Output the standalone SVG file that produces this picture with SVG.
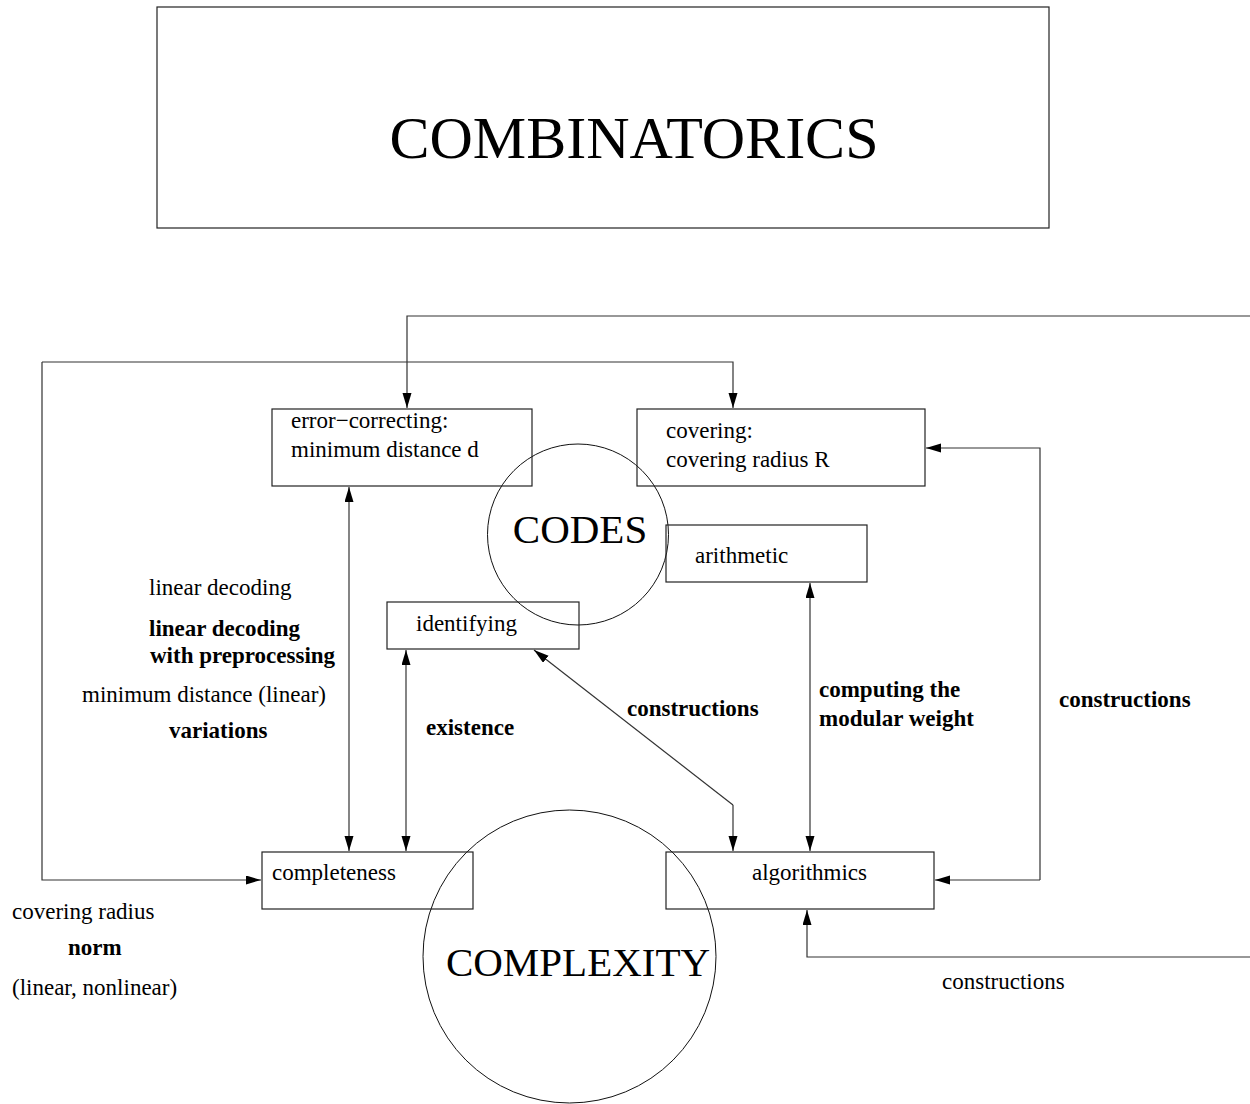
<svg xmlns="http://www.w3.org/2000/svg" width="1250" height="1104" viewBox="0 0 1250 1104">
<style>
.box{fill:none;stroke:#222;stroke-width:1.2}
.circ{fill:none;stroke:#111;stroke-width:1}
.ln{fill:none;stroke:#333;stroke-width:1.2}
text{font-family:"Liberation Serif","Times New Roman",serif;font-size:23px;fill:#000}
.b{font-weight:bold}
.big{font-size:41px}
.huge{font-size:60px}
</style>
<defs>
<marker id="ah" markerUnits="userSpaceOnUse" markerWidth="16" markerHeight="10" refX="15" refY="4.5" orient="auto">
<path d="M0,0 L15,4.5 L0,9 z" fill="#000"/>
</marker>
<marker id="ahs" markerUnits="userSpaceOnUse" markerWidth="16" markerHeight="10" refX="15" refY="4.5" orient="auto-start-reverse">
<path d="M0,0 L15,4.5 L0,9 z" fill="#000"/>
</marker>
</defs>
<rect width="1250" height="1104" fill="#fff"/>
<g id="combinatorics">
<rect class="box" x="157" y="7" width="892" height="221"/>
<text class="huge" x="634" y="158" text-anchor="middle">COMBINATORICS</text>
</g>
<g id="codes">
<circle class="circ" cx="578" cy="534.5" r="90.5"/>
<text class="big" x="580" y="543" text-anchor="middle">CODES</text>
</g>
<g id="complexity">
<circle class="circ" cx="569.5" cy="956.5" r="146.5"/>
<text class="big" x="578" y="976" text-anchor="middle">COMPLEXITY</text>
</g>
<g id="error-correcting">
<rect class="box" x="272" y="409" width="260" height="77"/>
<text x="291" y="428">error−correcting:</text>
<text x="291" y="457">minimum distance d</text>
</g>
<g id="covering">
<rect class="box" x="637" y="409" width="288" height="77"/>
<text x="666" y="438">covering:</text>
<text x="666" y="467">covering radius R</text>
</g>
<g id="arithmetic">
<rect class="box" x="666" y="525" width="201" height="57"/>
<text x="695" y="563">arithmetic</text>
</g>
<g id="identifying">
<rect class="box" x="387" y="602" width="192" height="47"/>
<text x="416" y="631">identifying</text>
</g>
<g id="completeness">
<rect class="box" x="262" y="852" width="211" height="57"/>
<text x="272" y="880">completeness</text>
</g>
<g id="algorithmics">
<rect class="box" x="666" y="852" width="268" height="57"/>
<text x="752" y="880">algorithmics</text>
</g>
<g id="connectors">
<polyline class="ln" points="1250,316 407,316 407,408" marker-end="url(#ah)"/>
<polyline class="ln" points="42,362 733,362 733,408" marker-end="url(#ah)"/>
<polyline class="ln" points="42,362 42,880 261,880" marker-end="url(#ah)"/>
<polyline class="ln" points="1040,880 1040,448 926,448" marker-end="url(#ah)"/>
<line class="ln" x1="1040" y1="880" x2="935" y2="880" marker-end="url(#ah)"/>
<line class="ln" x1="349" y1="487" x2="349" y2="851" marker-start="url(#ahs)" marker-end="url(#ah)"/>
<line class="ln" x1="406" y1="650" x2="406" y2="851" marker-start="url(#ahs)" marker-end="url(#ah)"/>
<line class="ln" x1="810" y1="583" x2="810" y2="851" marker-start="url(#ahs)" marker-end="url(#ah)"/>
<polyline class="ln" points="733,805 733,851" marker-end="url(#ah)"/>
<polyline class="ln" points="733,805 534,650" marker-end="url(#ah)"/>
<polyline class="ln" points="1250,957 807,957 807,910" marker-end="url(#ah)"/>
</g>
<g id="labels">
<text x="149" y="595">linear decoding</text>
<text class="b" x="149" y="636">linear decoding</text>
<text class="b" x="150" y="663">with preprocessing</text>
<text x="82" y="702">minimum distance (linear)</text>
<text class="b" x="169" y="738">variations</text>
<text class="b" x="426" y="735">existence</text>
<text class="b" x="627" y="716">constructions</text>
<text class="b" x="819" y="697">computing the</text>
<text class="b" x="819" y="726">modular weight</text>
<text class="b" x="1059" y="707">constructions</text>
<text x="12" y="919">covering radius</text>
<text class="b" x="68" y="955">norm</text>
<text x="12" y="995">(linear, nonlinear)</text>
<text x="942" y="989">constructions</text>
</g>
</svg>
